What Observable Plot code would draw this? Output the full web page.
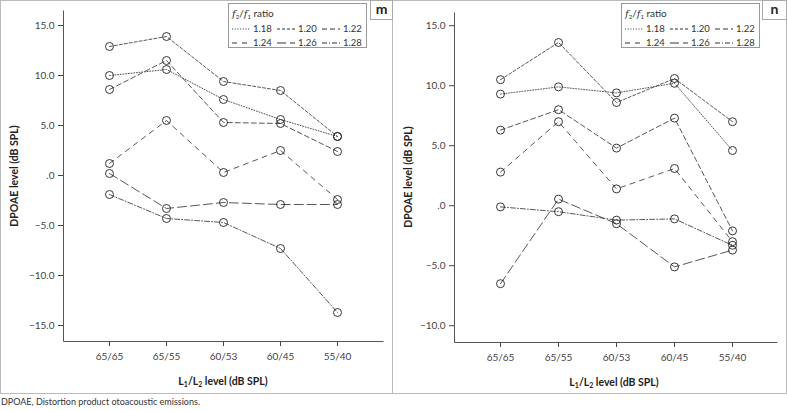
<!DOCTYPE html>
<html>
<head>
<meta charset="utf-8">
<script src="https://cdn.jsdelivr.net/npm/d3@7"></script>
<script src="https://cdn.jsdelivr.net/npm/@observablehq/plot@0.6"></script>
<style>
  body { margin: 0; background: #fff; font-family: Lato, "Open Sans", sans-serif; color: #333; }
  #root { position: relative; width: 787px; height: 411px; overflow: hidden; background: #fff; }
  .frame { position: absolute; top: 0; height: 394px; border: 1px solid #bbb; box-sizing: border-box; }
  .plot { position: absolute; top: 0; }
  .tag { position: absolute; top: 0; height: 20px; border: 1px solid #aaa; box-sizing: border-box;
         font: bold 14px Lato, sans-serif; color: #222; text-align: center; line-height: 16px; background: #fff; }
  .ylab { position: absolute; transform: translate(-50%, -50%) rotate(-90deg); white-space: nowrap;
          font: bold 10.5px Lato, sans-serif; color: #222; }
  .xlab { position: absolute; transform: translate(-50%, -50%); white-space: nowrap;
          font: bold 10.5px Lato, sans-serif; color: #222; }
  .xlab sub { font-size: 7px; vertical-align: -2px; }
  .legend { position: absolute; top: 3px; width: 139px; height: 45px; border: 1px solid #999; box-sizing: border-box;
            background: #fff; font: 9.5px Lato, sans-serif; color: #333; }
  .legend .ttl { position: absolute; left: 3px; top: 3px; font-size: 10px; }
  .legend .ttl i { font-family: "DejaVu Serif", serif; font-size: 10px; }
  .legend .ttl sub { font-size: 6px; vertical-align: -2px; }
  .legend .row { position: absolute; left: 3px; display: flex; align-items: center; }
  .legend .item { display: flex; align-items: center; width: 45px; }
  .legend .item svg { margin-right: 3px; }
  .caption { position: absolute; left: 1px; top: 396px; font: 9px Lato, sans-serif; color: #333; white-space: nowrap; }
</style>
</head>
<body>
<div id="root"></div>
<script>
// ---- data ----
const categories = ["65/65", "65/55", "60/53", "60/45", "55/40"];
const ratios = ["1.18", "1.20", "1.22", "1.24", "1.26", "1.28"];

// Panel m (DPOAE level, dB SPL) per ratio
const m118 = [10.0, 10.6, 7.6, 5.6, 3.9];
const m120 = [12.9, 13.9, 9.4, 8.5, 3.9];
const m122 = [8.6, 11.5, 5.3, 5.2, 2.4];
const m124 = [1.2, 5.5, 0.3, 2.5, -2.4];
const m126 = [0.2, -3.3, -2.7, -2.9, -2.9];
const m128 = [-1.9, -4.3, -4.7, -7.3, -13.7];

// Panel n
const n118 = [9.3, 9.9, 9.4, 10.2, 4.6];
const n120 = [10.5, 13.6, 8.6, 10.6, 7.0];
const n122 = [6.3, 8.0, 4.8, 7.3, -2.1];
const n124 = [2.8, 7.0, 1.4, 3.1, -3.0];
const n126 = [-6.5, 0.55, -1.5, -5.1, -3.7];
const n128 = [-0.1, -0.5, -1.2, -1.1, -3.3];

const mTicks = [-15, -10, -5, 0, 5, 10, 15];
const nTicks = [-10, -5, 0, 5, 10, 15];

// ---- styles ----
const dash = {
  "1.18": "1,1.7",
  "1.20": "3,2",
  "1.22": "5,3",
  "1.24": "5,5",
  "1.26": "9,4",
  "1.28": "5,2,1,2"
};
const fmt = d => d === 0 ? ".0" : (d < 0 ? "\u2212" : "") + Math.abs(d).toFixed(1);

function makePanel(series, yDomain, yTicks, mg) {
  const rows = ratios.flatMap((r, i) => categories.map((c, j) => ({cat: c, ratio: r, v: series[i][j]})));
  const W = 393, H = 393;
  const iw = W - mg.left - mg.right, ih = H - mg.top - mg.bottom;
  return Plot.plot({
    width: W, height: H,
    marginTop: mg.top, marginRight: mg.right, marginBottom: mg.bottom, marginLeft: mg.left,
    style: {fontFamily: "Lato, 'Open Sans', sans-serif", fontSize: "10px", color: "#444", background: "transparent", overflow: "visible"},
    x: {type: "point", domain: categories, padding: 0.77, tickSize: 5, tickPadding: 6, label: null},
    y: {domain: yDomain, ticks: yTicks, tickFormat: fmt, tickSize: 5, tickPadding: 4, label: null},
    marks: [
      Plot.frame({stroke: "#555", strokeWidth: 1, strokeDasharray: `0 ${iw + ih} ${iw + ih}`}),
      ...ratios.map(r => Plot.line(rows.filter(d => d.ratio === r), {
        x: "cat", y: "v", stroke: "#444", strokeWidth: 0.9, strokeDasharray: dash[r]
      })),
      Plot.dot(rows, {x: "cat", y: "v", r: 4, stroke: "#222", strokeWidth: 0.9, fill: "none"})
    ]
  });
}

function legendHTML(left) {
  const sample = r => `<svg width="18" height="6"><line x1="0" y1="3" x2="18" y2="3" stroke="#333" stroke-width="1.1" stroke-dasharray="${dash[r]}"/></svg>`;
  const item = r => `<div class="item">${sample(r)}<span>${r}</span></div>`;
  return `<div class="legend" style="left:${left}px">
    <div class="ttl"><i>f</i><sub>2</sub>/<i>f</i><sub>1</sub> ratio</div>
    <div class="row" style="top:19px">${ratios.slice(0, 3).map(item).join("")}</div>
    <div class="row" style="top:33px">${ratios.slice(3).map(item).join("")}</div>
  </div>`;
}

const root = document.getElementById("root");
root.innerHTML = `
  <div class="frame" style="left:0;width:393px"></div>
  <div class="frame" style="left:392px;width:395px"></div>
`;

const pm = makePanel([m118, m120, m122, m124, m126, m128], [-16.6, 16.5], mTicks, {top: 10, right: 10, bottom: 52, left: 63});
pm.classList.add("plot"); pm.style.left = "0px";
root.appendChild(pm);

const pn = makePanel([n118, n120, n122, n124, n126, n128], [-11.4, 16.1], nTicks, {top: 12, right: 9, bottom: 51, left: 61});
pn.classList.add("plot"); pn.style.left = "393px";
root.appendChild(pn);

root.insertAdjacentHTML("beforeend", `
  ${legendHTML(228)}
  ${legendHTML(621)}
  <div class="tag" style="left:370px;width:23px">m</div>
  <div class="tag" style="left:762px;width:25px">n</div>
  <div class="ylab" style="left:14px;top:176px">DPOAE level (dB SPL)</div>
  <div class="ylab" style="left:408px;top:177px">DPOAE level (dB SPL)</div>
  <div class="xlab" style="left:223px;top:381px">L<sub>1</sub>/L<sub>2</sub> level (dB SPL)</div>
  <div class="xlab" style="left:614px;top:382px">L<sub>1</sub>/L<sub>2</sub> level (dB SPL)</div>
  <div class="caption">DPOAE, Distortion product otoacoustic emissions.</div>
`);
</script>
</body>
</html>
